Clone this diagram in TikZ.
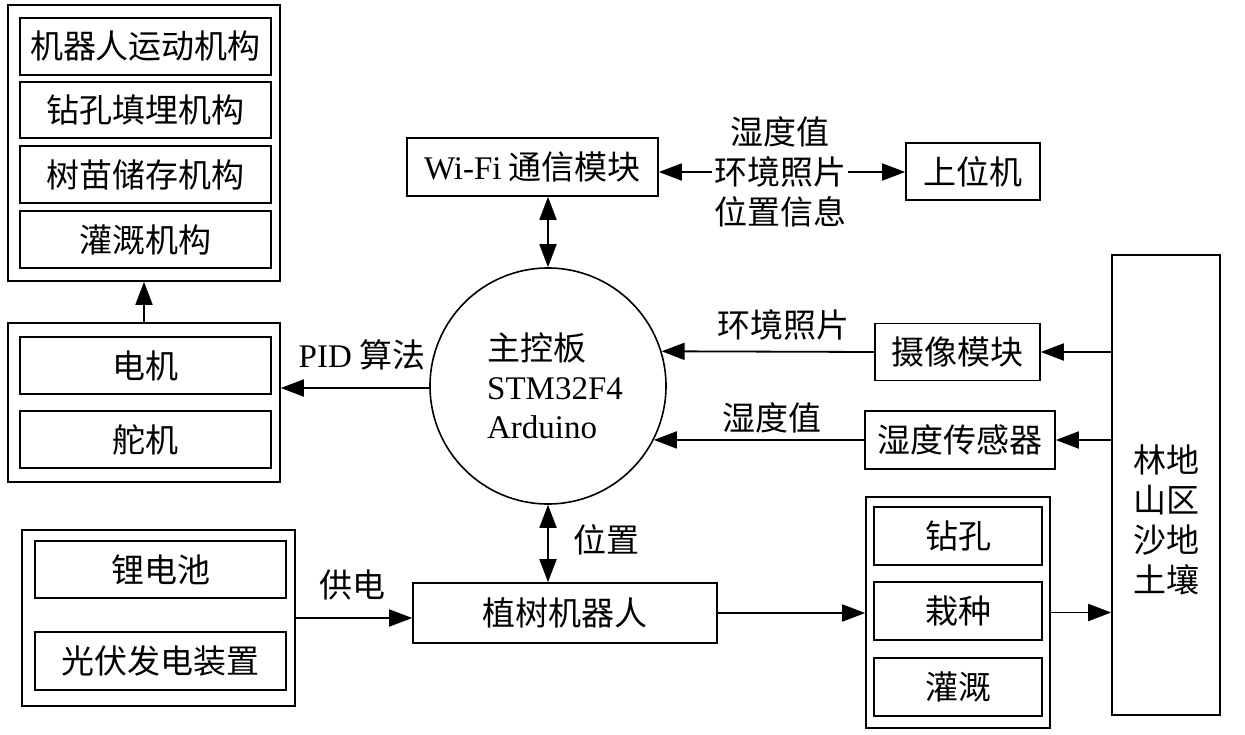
\documentclass[tikz,border=0pt]{standalone}
\usepackage{fontspec}
\setmainfont{Liberation Serif}
\newfontfamily\cjk{Noto Sans CJK SC}
\usetikzlibrary{arrows.meta,calc}
\newcommand\fs{\fontsize{33}{40}\selectfont}
\begin{document}
\begin{tikzpicture}[x=1pt,y=-1pt,
  box/.style={draw, line width=1.6pt, inner sep=0pt, font=\fs\cjk, align=center},
  arr/.style={line width=1.8pt, -{Triangle[length=23pt,width=17pt]}},
  darr/.style={line width=1.8pt, {Triangle[length=23pt,width=17pt]}-{Triangle[length=23pt,width=17pt]}},
  lbl/.style={font=\fs\cjk, inner sep=2pt, align=center}]
\useasboundingbox (0,0) rectangle (1245,734);
% top-left group
\node[box, minimum width=272pt, minimum height=276pt] (o1) at (144,143) {};
\node[box, minimum width=251pt, minimum height=57pt] (m1) at (145.5,46.5) {机器人运动机构};
\node[box, minimum width=251pt, minimum height=56pt] (m2) at (145.5,110) {钻孔填埋机构};
\node[box, minimum width=251pt, minimum height=57pt] (m3) at (145.5,174.5) {树苗储存机构};
\node[box, minimum width=251pt, minimum height=57pt] (m4) at (145.5,239.5) {灌溉机构};
% motor group
\node[box, minimum width=272pt, minimum height=159pt] (o2) at (144,402.5) {};
\node[box, minimum width=251pt, minimum height=57pt] (d1) at (145.5,365.5) {电机};
\node[box, minimum width=251pt, minimum height=57pt] (d2) at (145.5,439.5) {舵机};
% battery group
\node[box, minimum width=273pt, minimum height=176pt] (o4) at (158.5,618) {};
\node[box, minimum width=251pt, minimum height=57pt] (b1) at (160.5,569.5) {锂电池};
\node[box, minimum width=251pt, minimum height=58pt] (b2) at (160.5,661) {光伏发电装置};
% center
\node[draw, circle, line width=1.6pt, minimum size=236pt, inner sep=0pt, font=\fontsize{33}{39}\selectfont, align=left] (c) at (548,386) {\hspace*{14pt}{\cjk 主控板}\\\hspace*{14pt}STM32F4\\\hspace*{14pt}Arduino};
\node[box, minimum width=251pt, minimum height=58pt] (wifi) at (532.5,167) {{\rmfamily Wi-Fi} 通信模块};
\node[box, minimum width=134pt, minimum height=57pt] (pc) at (973,171.5) {上位机};
\node[box, minimum width=165pt, minimum height=57pt] (cam) at (957.5,352) {摄像模块};
\node[box, minimum width=190pt, minimum height=58pt] (hum) at (960,440) {湿度传感器};
\node[box, minimum width=108pt, minimum height=460pt] (land) at (1166,485) {};
\node[lbl, font=\fontsize{33}{40}\selectfont\cjk] (landtxt) at (1166,520) {林地\\山区\\沙地\\土壤};
\node[box, minimum width=304pt, minimum height=60pt] (robot) at (565,613) {植树机器人};
% right bottom group
\node[box, minimum width=184pt, minimum height=231pt] (o3) at (958,612.5) {};
\node[box, minimum width=168pt, minimum height=58pt] (z1) at (958,536) {钻孔};
\node[box, minimum width=168pt, minimum height=58pt] (z2) at (958,611) {栽种};
\node[box, minimum width=168pt, minimum height=58pt] (z3) at (958,687) {灌溉};
% labels
\node[lbl] (pid) at (362,355) {{\rmfamily PID} 算法};
\node[lbl] (l1) at (780,172) {湿度值\\环境照片\\位置信息};
\node[lbl] (l2) at (783,325) {环境照片};
\node[lbl] (l3) at (772,418) {湿度值};
\node[lbl] (l4) at (606,540) {位置};
\node[lbl] (l5) at (352,585) {供电};
% connectors
\draw[arr] (o2.north) -- (o1.south);
\draw[arr] (c.west) ++(0,2) coordinate (cw) -- (cw -| o2.east);
\draw[darr] (c.north) -- (c.north |- wifi.south);
\draw[arr] (l1.west) -- (l1.west -| wifi.east);
\draw[arr] (l1.east) -- (l1.east -| pc.west);
\draw[arr] (cam.west) -- (c.17);
\draw[arr] (hum.west) -- (c.-27.2);
\draw[arr] (cam.east -| land.west) -- (cam.east);
\draw[arr] (hum.east -| land.west) -- (hum.east);
\draw[darr] (c.south) -- (c.south |- robot.north);
\draw[arr] (o4.east) -- (o4.east -| robot.west);
\draw[arr] (robot.east) -- (robot.east -| o3.west);
\draw[arr] (o3.east) -- (o3.east -| land.west);
\end{tikzpicture}
\end{document}
